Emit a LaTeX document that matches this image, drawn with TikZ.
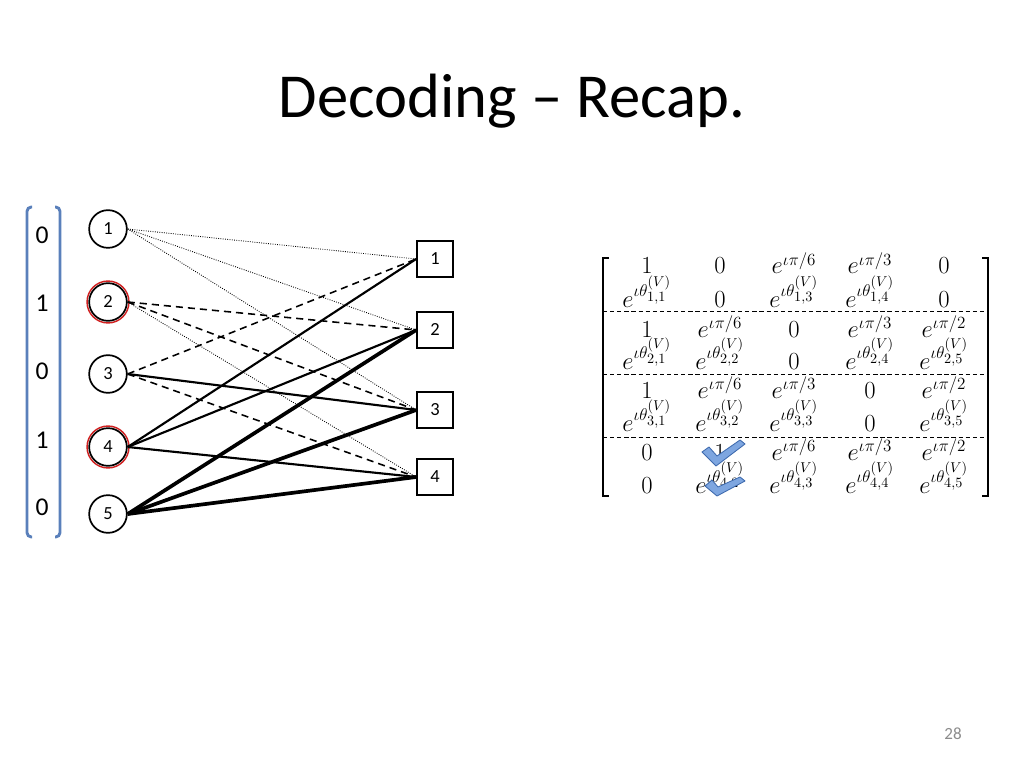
\documentclass[tikz,border=0pt]{standalone}
\usepackage[no-math]{fontspec}
\setmainfont{Carlito}
\definecolor{vecblue}{HTML}{5A80BB}
\definecolor{chkfill}{HTML}{7EA6E0}
\definecolor{chkdraw}{HTML}{3E6AAE}
\definecolor{pgray}{HTML}{8C8C8C}
\definecolor{ringred}{HTML}{D02020}
\newcommand\ethv[2]{e^{\iota\theta^{(V)}_{#1,#2}}}
\newcommand\epiv[1]{e^{\iota\pi/#1}}
\tikzset{
  vnode/.style={circle,draw,line width=1.2pt,minimum size=26.5pt,inner sep=0pt,font=\fontsize{13}{15}\selectfont},
  cnode/.style={rectangle,draw,line width=1pt,minimum size=25.5pt,inner sep=0pt,font=\fontsize{13}{15}\selectfont},
  ering/.style={circle,draw=ringred,line width=1pt,minimum size=29.5pt,inner sep=0pt},
  edotted/.style={densely dotted,line width=0.6pt},
  edashed/.style={dash pattern=on 5pt off 3.5pt,line width=1.1pt},
  esolid/.style={line width=1.5pt},
  ethick/.style={line width=2.6pt},
  vecnum/.style={font=\fontsize{18}{20}\selectfont,anchor=center},
  mentry/.style={font=\LARGE,anchor=base,inner sep=0pt},
  vbrack/.style={draw=vecblue,line width=2pt,rounded corners=3pt},
  mbrack/.style={draw,line width=1pt},
  mdash/.style={dash pattern=on 3pt off 2pt,line width=0.6pt},
  chk/.style={fill=chkfill,draw=chkdraw,line width=0.6pt,line join=round}
}
\begin{document}
\begin{tikzpicture}[x=0.703125pt,y=-0.703125pt]
\useasboundingbox[fill=white] (0,0) rectangle (1024,768);
% title
\node[anchor=base,font=\fontsize{44}{50}\selectfont] (title) at (512,118) {Decoding -- Recap.};
\node[anchor=base,font=\fontsize{12}{14}\selectfont,text=pgray] (pnum) at (953,739) {28};
% vector
\draw[vbrack] (32,207) -- (27,207) -- (27,537) -- (32,537);
\draw[vbrack] (55,207) -- (60,207) -- (60,537) -- (55,537);
\node[vecnum] (n1) at (42,235) {0};
\node[vecnum] (n2) at (42,303) {1};
\node[vecnum] (n3) at (42,371) {0};
\node[vecnum] (n4) at (42,440) {1};
\node[vecnum] (n5) at (42,507) {0};
% variable nodes
\node[ering] (r2) at (108,302) {};
\node[ering] (r4) at (108,447) {};
\node[vnode] (v1) at (108,229) {1};
\node[vnode] (v2) at (108,302) {2};
\node[vnode] (v3) at (108,374) {3};
\node[vnode] (v4) at (108,447) {4};
\node[vnode] (v5) at (108,514) {5};
% check nodes
\node[cnode] (c1) at (435,259) {1};
\node[cnode] (c2) at (435,330) {2};
\node[cnode] (c3) at (435,410) {3};
\node[cnode] (c4) at (435,477) {4};
% edges
\draw[edotted] (v1.east) -- (c1.west);
\draw[edotted] (v1.east) -- (c2.west);
\draw[edotted] (v1.east) -- (c3.west);
\draw[edashed] (v2.east) -- (c2.west);
\draw[edashed] (v2.east) -- (c3.west);
\draw[edotted] (v2.east) -- (c4.west);
\draw[edashed] (v3.east) -- (c1.west);
\draw[esolid] (v3.east) -- (c3.west);
\draw[edashed] (v3.east) -- (c4.west);
\draw[esolid] (v4.east) -- (c1.west);
\draw[esolid] (v4.east) -- (c2.west);
\draw[esolid] (v4.east) -- (c4.west);
\draw[ethick] (v5.east) -- (c2.west);
\draw[ethick] (v5.east) -- (c3.west);
\draw[ethick] (v5.east) -- (c4.west);
% matrix brackets
\draw[mbrack] (609,258) -- (603,258) -- (603,496) -- (609,496);
\draw[mbrack] (982,258) -- (988,258) -- (988,496) -- (982,496);
\draw[mdash] (603,311) -- (988,311);
\draw[mdash] (603,374) -- (988,374);
\draw[mdash] (603,437) -- (988,437);
% matrix entries
\foreach \r/\y/\a/\b/\c/\d/\e in {
  1/274/{1}/{0}/{\epiv{6}}/{\epiv{3}}/{0},
  2/307/{\ethv{1}{1}}/{0}/{\ethv{1}{3}}/{\ethv{1}{4}}/{0},
  3/337/{1}/{\epiv{6}}/{0}/{\epiv{3}}/{\epiv{2}},
  4/369/{\ethv{2}{1}}/{\ethv{2}{2}}/{0}/{\ethv{2}{4}}/{\ethv{2}{5}},
  5/398/{1}/{\epiv{6}}/{\epiv{3}}/{0}/{\epiv{2}},
  6/431/{\ethv{3}{1}}/{\ethv{3}{2}}/{\ethv{3}{3}}/{0}/{\ethv{3}{5}},
  7/460/{0}/{1}/{\epiv{6}}/{\epiv{3}}/{\epiv{2}},
  8/493/{0}/{\ethv{4}{2}}/{\ethv{4}{3}}/{\ethv{4}{4}}/{\ethv{4}{5}}}{
  \node[mentry] (m\r a) at (647,\y) {$\a$};
  \node[mentry] (m\r b) at (720,\y) {$\b$};
  \node[mentry] (m\r c) at (794,\y) {$\c$};
  \node[mentry] (m\r d) at (870,\y) {$\d$};
  \node[mentry] (m\r e) at (944,\y) {$\e$};
}
% check marks
\draw[chk] (716,466) -- (702,452) -- (709,447) -- (717,456) -- (740,440) -- (745,444) -- cycle;
\draw[chk] (717,496) -- (705,486) -- (712,480) -- (718,487) -- (740,477) -- (745,481) -- cycle;
\end{tikzpicture}
\end{document}
